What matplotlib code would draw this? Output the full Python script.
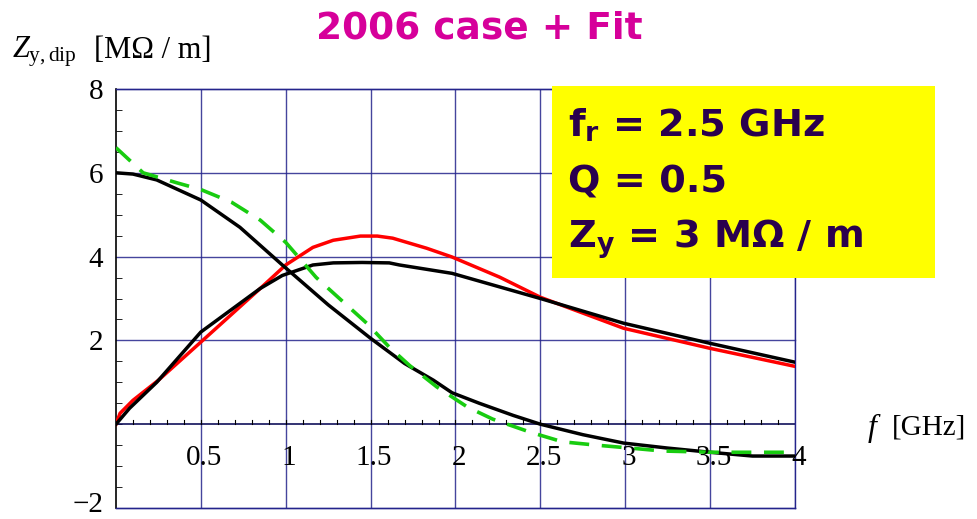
import matplotlib.pyplot as plt
import matplotlib.transforms as mtransforms
import numpy as np

plt.rcParams["mathtext.fontset"] = "custom"
plt.rcParams["mathtext.rm"] = "Liberation Serif"
plt.rcParams["mathtext.it"] = "Liberation Serif:italic"
plt.rcParams["mathtext.bf"] = "DejaVu Sans:bold"

# measured dipolar impedance (2006 case), real part rising / imaginary part falling
f_meas_re = [0.0, 0.08, 0.24, 0.5, 0.85, 0.98, 1.16, 1.28, 1.45, 1.61, 1.67, 1.98,
             2.5, 2.99, 3.5, 4.0]
z_meas_re = [0.0, 0.38, 1.0, 2.2, 3.24, 3.55, 3.8, 3.85, 3.86, 3.85, 3.8, 3.6,
             3.0, 2.41, 1.93, 1.48]

f_meas_im = [0.0, 0.1, 0.24, 0.5, 0.73, 0.98, 1.25, 1.5, 1.7, 1.87, 1.98, 2.14,
             2.34, 2.5, 2.75, 2.99, 3.25, 3.5, 3.75, 4.0]
z_meas_im = [6.0, 5.97, 5.83, 5.35, 4.7, 3.8, 2.85, 2.05, 1.45, 1.05, 0.75, 0.5,
             0.21, 0.0, -0.25, -0.45, -0.57, -0.67, -0.76, -0.76]

# resonator fit (fr = 2.5 GHz, Q = 0.5, Zy = 3 MOhm/m)
f_fit_re = [0.0, 0.024, 0.1, 0.25, 0.5, 0.85, 1.0, 1.16, 1.28, 1.44, 1.54, 1.63,
            1.83, 1.98, 2.26, 2.5, 2.99, 3.5, 4.0]
z_fit_re = [0.0, 0.26, 0.57, 1.05, 1.96, 3.24, 3.8, 4.22, 4.39, 4.49, 4.49, 4.44,
            4.2, 3.99, 3.51, 3.03, 2.29, 1.81, 1.38]

f_fit_im = [0.0, 0.16, 0.36, 0.5, 0.68, 0.85, 1.0, 1.18, 1.48, 1.61, 1.73, 1.89,
            2.07, 2.22, 2.44, 2.63, 2.83, 3.03, 3.22, 3.52, 4.0]
z_fit_im = [6.6, 6.0, 5.76, 5.6, 5.3, 4.87, 4.34, 3.5, 2.4, 1.84, 1.4, 0.89,
            0.41, 0.12, -0.19, -0.42, -0.5, -0.57, -0.64, -0.67, -0.67]

x_ticks = [0.5, 1, 1.5, 2, 2.5, 3, 3.5, 4]
y_ticks = [-2, 2, 4, 6, 8]
y_tick_labels = ["\u22122", "2", "4", "6", "8"]

NAVY = "#24248c"
SERIF = "Liberation Serif"
BOLD = "DejaVu Sans"

fig = plt.figure(figsize=(9.77, 5.19), dpi=100)
ax = fig.add_axes([0.1187, 0.0212, 0.695, 0.8073])
ax.set_xlim(0, 4)
ax.set_ylim(-2, 8)

for x in x_ticks:
    ax.axvline(x, color=NAVY, lw=1.0, alpha=0.85, zorder=1)
for y in y_ticks:
    ax.axhline(y, color=NAVY, lw=1.0, alpha=0.85, zorder=1, clip_on=False)
ax.axhline(0, color="#10105a", lw=1.2, zorder=2)

for s in ["top", "right", "bottom"]:
    ax.spines[s].set_color(NAVY)
    ax.spines[s].set_linewidth(1.0)
ax.spines["left"].set_color("black")
ax.spines["left"].set_linewidth(1.2)

ax.plot(f_meas_im, z_meas_im, color="black", lw=2.5, zorder=4)
ax.plot(f_fit_im, z_fit_im, color="#18cc10", lw=2.6, dashes=(5.5, 3.5), zorder=5)
ax.plot(f_meas_re, z_meas_re, color="black", lw=2.5, zorder=4)
ax.plot(f_fit_re, z_fit_re, color="red", lw=2.5, zorder=3)

# ticks: y on the left spine, x along the line y = 0
ax.set_xticks([])
ax.set_yticks(y_ticks)
ax.set_yticklabels(y_tick_labels, fontsize=21, fontfamily=SERIF)
ax.set_yticks(np.arange(-2, 8.01, 0.5), minor=True)
ax.tick_params(axis="y", which="both", direction="in", length=4, color="black", pad=9)
ax.tick_params(axis="y", which="major", length=0)
# keep the lowest label inside the figure
low = ax.get_yticklabels()[0]
low.set_transform(low.get_transform()
                  + mtransforms.ScaledTranslation(0, 4 / 72, fig.dpi_scale_trans))
for x in np.arange(0.1, 4.0, 0.1):
    ax.plot([x, x], [0, 0.1], color="black", lw=0.8, zorder=2)
for x in x_ticks:
    ax.text(x + 0.02, -0.8, f"{x:g}", ha="center", va="center", fontsize=21,
            fontfamily=SERIF, zorder=6)

fig.text(0.012, 0.9, r"$Z_{\mathrm{y,dip}}$", fontsize=22, ha="left", va="center")
fig.text(0.096, 0.902, "[M\u03a9 / m]", fontsize=22, fontfamily=SERIF,
         ha="left", va="center")
fig.text(0.887, 0.175, r"$f$", fontsize=23, ha="left", va="center")
fig.text(0.913, 0.177, "[GHz]", fontsize=21, fontfamily=SERIF, ha="left", va="center")

fig.text(0.491, 0.946, "2006 case + Fit", fontsize=27, fontweight="bold",
         fontfamily=BOLD, color="#d6009a", ha="center", va="center")

box = plt.Rectangle((0.565, 0.465), 0.392, 0.37, transform=fig.transFigure,
                    facecolor="#ffff00", edgecolor="none", zorder=7)
fig.add_artist(box)
box_lines = [r"f$_\mathbf{r}$ = 2.5 GHz", "Q = 0.5", r"Z$_\mathbf{y}$ = 3 M" + "\u03a9 / m"]
for i, line in enumerate(box_lines):
    fig.text(0.581, 0.757 - i * 0.109, line, fontsize=27.5, fontweight="bold",
             fontfamily=BOLD, color="#2a004e", ha="left", va="center", zorder=8)

fig.savefig("out.png", dpi=100)
